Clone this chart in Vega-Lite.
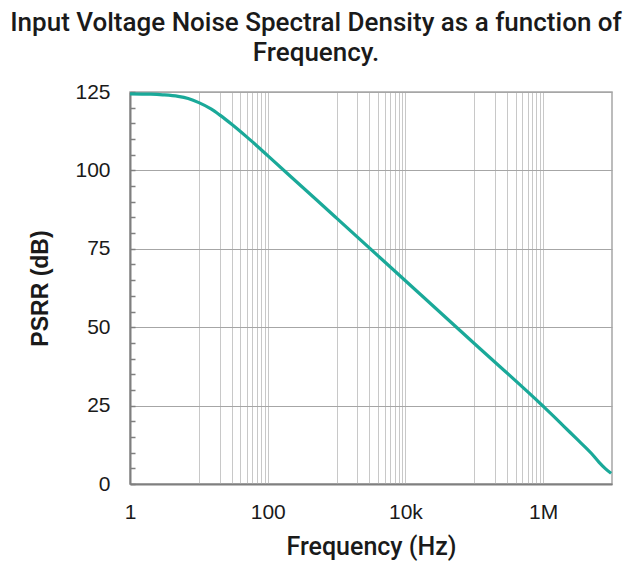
{
  "$schema": "https://vega.github.io/schema/vega-lite/v6.json",
  "width": 482,
  "height": 392,
  "autosize": {"type": "none"},
  "padding": {"left": 130, "top": 92, "right": 21, "bottom": 80},
  "background": "white",
  "title": {
    "text": ["Input Voltage Noise Spectral Density as a function of", "Frequency."],
    "anchor": "middle",
    "dx": -55,
    "font": "Roboto",
    "fontSize": 26,
    "fontWeight": 500,
    "lineHeight": 30,
    "color": "#1a1a1a",
    "offset": 15
  },
  "config": {
    "view": {"stroke": "#a6a6a6", "strokeWidth": 1.5}
  },
  "data": {
    "values": [
      {"f": 1, "psrr": 124.4},
      {"f": 2, "psrr": 124.3},
      {"f": 3, "psrr": 124.1},
      {"f": 5, "psrr": 123.6},
      {"f": 7, "psrr": 122.9},
      {"f": 10, "psrr": 121.6},
      {"f": 15, "psrr": 119.6},
      {"f": 20, "psrr": 117.7},
      {"f": 30, "psrr": 114.7},
      {"f": 50, "psrr": 110.6},
      {"f": 70, "psrr": 107.8},
      {"f": 100, "psrr": 104.7},
      {"f": 200, "psrr": 98.7},
      {"f": 500, "psrr": 90.8},
      {"f": 1000, "psrr": 84.8},
      {"f": 10000, "psrr": 64.8},
      {"f": 100000, "psrr": 44.8},
      {"f": 1000000, "psrr": 24.8},
      {"f": 1500000, "psrr": 21.1},
      {"f": 2000000, "psrr": 18.4},
      {"f": 3000000, "psrr": 14.6},
      {"f": 5000000, "psrr": 9.8},
      {"f": 6500000, "psrr": 6.9},
      {"f": 8000000, "psrr": 4.9},
      {"f": 9700000, "psrr": 3.4}
    ]
  },
  "mark": {"type": "line", "color": "#1aa999", "strokeWidth": 3.2, "interpolate": "monotone", "clip": true},
  "encoding": {
    "x": {
      "field": "f",
      "type": "quantitative",
      "scale": {"type": "log", "domain": [1, 10000000], "nice": false},
      "axis": {
        "orient": "bottom",
        "values": [1, 10, 20, 30, 40, 50, 60, 70, 80, 90, 100, 1000, 2000, 3000, 4000, 5000, 6000, 7000, 8000, 9000, 10000, 100000, 200000, 300000, 400000, 500000, 600000, 700000, 800000, 900000, 1000000],
        "labelExpr": "datum.value == 1 ? '1' : datum.value == 100 ? '100' : datum.value == 10000 ? '10k' : datum.value == 1000000 ? '1M' : ''",
        "labelFont": "Liberation Sans",
        "labelFontSize": 21,
        "labelColor": "#1a1a1a",
        "labelPadding": 17,
        "labelFlush": false,
        "labelOverlap": false,
        "ticks": false,
        "domainColor": "#7f7f7f",
        "domainWidth": 2,
        "grid": true,
        "gridColor": "#c8c8c8",
        "gridWidth": 1,
        "title": "Frequency (Hz)",
        "titleFont": "Roboto",
        "titleFontSize": 25,
        "titleFontWeight": 500,
        "titleColor": "#1a1a1a",
        "titlePadding": 12
      }
    },
    "y": {
      "field": "psrr",
      "type": "quantitative",
      "scale": {"domain": [0, 125], "nice": false},
      "axis": {
        "values": [0, 5, 10, 15, 20, 25, 30, 35, 40, 45, 50, 55, 60, 65, 70, 75, 80, 85, 90, 95, 100, 105, 110, 115, 120, 125],
        "labelExpr": "datum.value % 25 == 0 ? datum.value : ''",
        "labelFont": "Liberation Sans",
        "labelFontSize": 21,
        "labelColor": "#1a1a1a",
        "labelPadding": 25,
        "labelOverlap": false,
        "labelFlush": false,
        "ticks": true,
        "tickSize": -5,
        "tickColor": "#7f7f7f",
        "tickWidth": 1.5,
        "domainColor": "#7f7f7f",
        "domainWidth": 2,
        "grid": true,
        "gridColor": "#a6a6a6",
        "gridWidth": 1.2,
        "gridOpacity": {"condition": {"test": "datum.value % 25 == 0", "value": 1}, "value": 0},
        "title": "PSRR (dB)",
        "titleFont": "Liberation Sans",
        "titleFontSize": 23,
        "titleFontWeight": "bold",
        "titleColor": "#1a1a1a",
        "titlePadding": 22
      }
    }
  }
}
